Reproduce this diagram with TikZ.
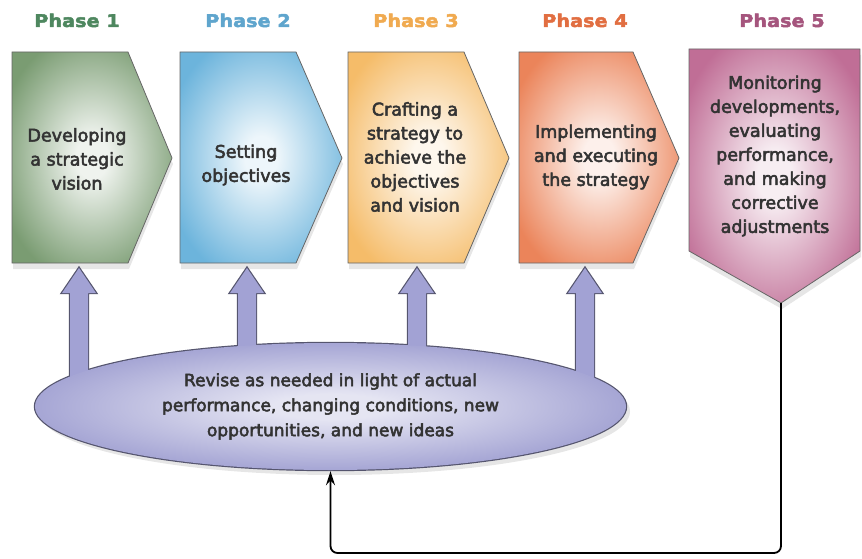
\documentclass[tikz,border=0pt]{standalone}
\usepackage{fontspec}
\setmainfont{DejaVu Sans}
\newfontfamily\boxfont[FakeBold=3]{DejaVu Sans}
\newfontfamily\labelfont[FakeStretch=1.1,FakeBold=2.5]{DejaVu Sans}
\usetikzlibrary{shapes.geometric,shadows,calc,arrows.meta}
\definecolor{headgreen}{RGB}{78,135,95}
\definecolor{headblue}{RGB}{95,165,205}
\definecolor{headlight}{RGB}{240,170,80}
\definecolor{headorange}{RGB}{225,110,65}
\definecolor{headpink}{RGB}{165,85,125}
\definecolor{boxgreen}{RGB}{122,156,114}
\definecolor{boxblue}{RGB}{108,180,220}
\definecolor{boxlight}{RGB}{245,188,105}
\definecolor{boxorange}{RGB}{235,132,90}
\definecolor{boxpink}{RGB}{192,110,150}
\definecolor{revlav}{RGB}{150,150,205}
\definecolor{arrowlav}{RGB}{162,162,212}
\definecolor{lavedge}{RGB}{85,85,110}
\colorlet{glowin}{white}
\colorlet{glowout}{gray}
\pgfdeclareradialshading[glowin,glowout]{glow}{\pgfpoint{0bp}{0bp}}{%
	color(0bp)=(glowin); color(5bp)=(glowin); color(30bp)=(glowout); color(50bp)=(glowout)}
\tikzset{
	phasebox/.style={draw=black!60, line width=0.8pt,
		/utils/exec={\colorlet{glowin}{#1!12}\colorlet{glowout}{#1}}, shading=glow,
		drop shadow={shadow xshift=1pt, shadow yshift=-6pt, opacity=0.2}},
	phasetext/.style={align=center, text=black!80, font=\boxfont\fontsize{17.5}{24}\selectfont},
	phaselabel/.style={anchor=base, font=\labelfont\bfseries\fontsize{17.5}{20}\selectfont},
	revbase/.style={ellipse, inner sep=0pt, minimum width=591pt, minimum height=127pt,
		draw=lavedge, line width=2.4pt, drop shadow={shadow xshift=4pt, shadow yshift=-5pt, opacity=0.2}},
	revfill/.style={ellipse, inner sep=0pt, minimum width=591pt, minimum height=127pt,
		/utils/exec={\colorlet{glowin}{revlav!25}\colorlet{glowout}{revlav}}, shading=glow,
		align=center, text=black!80, font=\boxfont\fontsize{17}{25}\selectfont},
	blockline/.style={draw=lavedge, line width=2.4pt, line join=miter},
	blockfill/.style={fill=arrowlav},
	feedback/.style={draw=black, line width=1.8pt, rounded corners=7pt, -{Stealth[length=14pt,width=9pt]}}
}
\begin{document}
\begin{tikzpicture}[x=1pt,y=-1pt]
\useasboundingbox (0,0) rectangle (862,559);

% headings
\node[phaselabel, text=headgreen] (h1) at (77,27) {Phase 1};
\node[phaselabel, text=headblue] (h2) at (248,27) {Phase 2};
\node[phaselabel, text=headlight] (h3) at (416,27) {Phase 3};
\node[phaselabel, text=headorange] (h4) at (585,27) {Phase 4};
\node[phaselabel, text=headpink] (h5) at (782,27) {Phase 5};

% the five phase boxes
\draw[phasebox=boxgreen] (12,52) -- (128,52) -- (172,158) -- (128,263) -- (12,263) -- cycle;
\draw[phasebox=boxblue] (180,52) -- (296,52) -- (342,158) -- (296,263) -- (180,263) -- cycle;
\draw[phasebox=boxlight] (348,52) -- (464,52) -- (509,158) -- (464,263) -- (348,263) -- cycle;
\draw[phasebox=boxorange] (519,52) -- (633,52) -- (679,158) -- (633,263) -- (519,263) -- cycle;
\draw[phasebox=boxpink] (689,49) -- (860,49) -- (860,251) -- (781,303) -- (689,251) -- cycle;

\node[phasetext] (p1) at (77,159) {Developing\\a strategic\\vision};
\node[phasetext] (p2) at (246,165) {Setting\\objectives};
\node[phasetext] (p3) at (415,157) {Crafting a\\strategy to\\achieve the\\objectives\\and vision};
\node[phasetext] (p4) at (596,157) {Implementing\\and executing\\the strategy};
\node[phasetext] (p5) at (775,156) {Monitoring\\developments,\\evaluating\\performance,\\and making\\corrective\\adjustments};

% arrow targets under the boxes
\coordinate (a1) at (79,268);
\coordinate (a2) at (247,268);
\coordinate (a3) at (417,268);
\coordinate (a4) at (585,268);
\coordinate (p5tip) at (781,303);
\coordinate (floor) at (0,553);

% revise ellipse and block arrows: outlines first, fills on top
\node[revbase] (revise) at (330.5,406.5) {};
\foreach \t in {a1,a2,a3,a4}
	\path[blockline] ($(revise.center -| \t)+(-9,0)$) -- ($(\t)+(-9,25)$) -- ($(\t)+(-17,25)$) -- (\t)
		-- ($(\t)+(17,25)$) -- ($(\t)+(9,25)$) -- ($(revise.center -| \t)+(9,0)$) -- cycle;
\foreach \t in {a1,a2,a3,a4}
	\path[blockfill] ($(revise.center -| \t)+(-9,0)$) -- ($(\t)+(-9,25)$) -- ($(\t)+(-17,25)$) -- (\t)
		-- ($(\t)+(17,25)$) -- ($(\t)+(9,25)$) -- ($(revise.center -| \t)+(9,0)$) -- cycle;
\node[revfill] (revtext) at (revise) {Revise as needed in light of actual\\performance, changing conditions, new\\opportunities, and new ideas};

% feedback loop
\draw[feedback] (p5tip) |- (revise.south |- floor) -- (revise.south);
\end{tikzpicture}
\end{document}
